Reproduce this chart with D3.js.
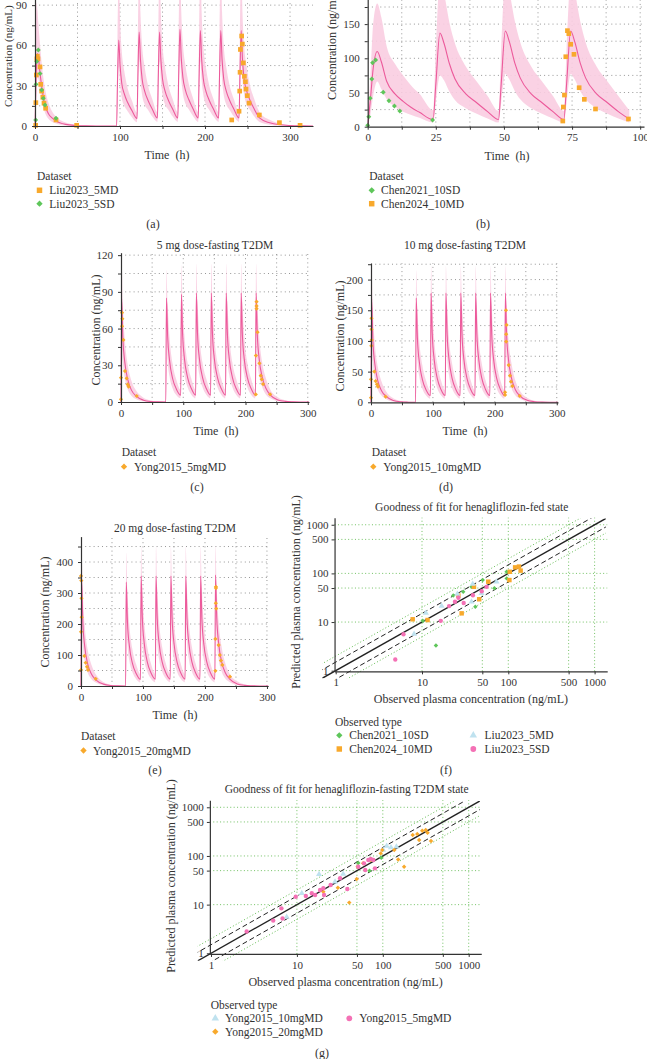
<!DOCTYPE html>
<html>
<head>
<meta charset="utf-8">
<script src="https://cdn.jsdelivr.net/npm/d3@7"></script>
<style>
  body { margin: 0; background: #fff; }
  svg { display: block; font-family: "Liberation Serif", "DejaVu Serif", serif; }
</style>
</head>
<body>
<script>
// ---- simulated PK curves: [time h, median, 5th pct, 95th pct]
const pkA = [
  [0,0,0,0],[0.5,12,5,40],[1,30,16,78],[2,48,30,92],[3,54,36,86],[4,51,35,76],[6,39,26,60],[8,29,19,46],
  [12,15,9.5,27],[16,9,5.2,17],[20,6,3.2,11],[24,4,2,7.5],[36,1.2,0.4,2.6],[48,0.4,0.1,1],[60,0.1,0,0.3],
  [72,0,0,0.05],[96,0,0,0],
  [97,32,18,66],[98.5,64,44,112],[100,46,31,80],[102,32,21,56],[105,24,15,41],[109,17.5,11,28],[114,11.5,6.5,19],
  [120,5.5,2.8,10],[121,36,20,70],[122.5,70,48,120],[124,50,34,85],[126,35,23,60],[129,26,16,44],[133,19,12,30],[138,12.5,7,20],
  [144,6,3,10.5],[145,36,20,70],[146.5,70,48,120],[148,50,34,85],[150,35,23,60],[153,26,16,44],[157,19,12,30],[162,12.5,7,20],
  [168,6,3,10.5],[169,37,21,72],[170.5,72,49,122],[172,51,35,86],[174,36,24,61],[177,26.5,16.5,45],[181,19.5,12.3,31],[186,12.7,7.2,20.5],
  [192,6,3,10.5],[193,36,20,71],[194.5,71,48,121],[196,50,34,85],[198,35,23,60],[201,26,16,44],[205,19,12,30],[210,12.5,7,20],
  [216,6,3,10.5],[217,36,20,71],[218.5,71,48,121],[220,50,34,85],[222,35,23,60],[225,26,16,44],[229,19,12,30],[234,12.5,7,20],
  [240,6,3,10.5],[241,36,20,71],[242.5,71,48,121],[244,50,34,85],[246,35,23,60],[249,26,16,44],[253,19,12,30],[258,12.5,7,20],
  [264,6,3,10.5],[276,2.4,1,4.6],[288,0.9,0.3,1.9],[300,0.35,0.1,0.8],[312,0.12,0,0.3],[327,0.03,0,0.1]
];
const pkB = [
  [0,0,0,0],[1,40,18,75],[2,85,45,150],[3.5,110,66,180],[5,95,55,160],[7,66,40,117],[10,48,29,92],[13,37,22,75],
  [16,28,17,60],[19,21,13,48],[24,10.5,6,24],
  [25,62,35,115],[26.5,137,75,215],[28,122,68,195],[30,92,51,152],[32,70,39,122],[36,48,27,88],[40,35,19,66],[44,22,12,45],[48,10.5,6,23],
  [49,63,35,116],[50.5,140,77,218],[52,124,69,197],[54,93,52,154],[56,71,40,123],[60,48,27,88],[64,35,19,66],[68,22,12,45],[72,10.5,6,23],
  [73,63,35,116],[74.5,140,77,218],[76,124,69,197],[78,93,52,154],[80,71,40,123],[84,48,27,88],[88,35,19,66],[92,22,12,45],[96,11,6,24]
];
const pkC = [
  [0,0,0,0],[1,84,58,118],[3,52,33,80],[6,33,20,52],[11,18,10,30],[17,9.5,5,17],[24,5,2.5,9.5],[36,1.5,0.6,3.5],
  [48,0.4,0.1,1.2],[60,0.1,0,0.4],[72,0,0,0],
  [73,85,60,108],[75,53,34,80],[78,34,21,53],[83,19,11,31],[89,10.5,5.5,18],[96,5.5,3,10],
  [97,88,62,112],[99,55,35,82],[102,35,22,54],[107,20,12,32],[113,11,6,19],[120,5.6,3,10],
  [121,89,63,113],[123,55,35,82],[126,35,22,54],[131,20,12,32],[137,11,6,19],[144,5.6,3,10],
  [145,89,63,113],[147,55,35,82],[150,35,22,54],[155,20,12,32],[161,11,6,19],[168,5.6,3,10],
  [169,89,63,113],[171,55,35,82],[174,35,22,54],[179,20,12,32],[185,11,6,19],[192,5.6,3,10],
  [193,89,63,113],[195,55,35,82],[198,35,22,54],[203,20,12,32],[209,11,6,19],[216,5.6,3,10],
  [217,89,63,113],[219,55,35,82],[222,35,22,54],[227,20,12,32],[233,11,6,19],[240,5.6,3,10],
  [252,1.7,0.7,3.8],[264,0.5,0.15,1.3],[276,0.15,0,0.4],[288,0.03,0,0.1],[302,0,0,0]
];
const pkD = [
  [0,0,0,0],[1,168,118,218],[3,102,66,152],[6,64,40,98],[11,35,21,58],[17,19,11,34],[24,10,5.5,18.5],[36,3,1.2,6.5],
  [48,0.8,0.2,2.2],[60,0.2,0,0.7],[72,0,0,0],
  [73,170,120,215],[75,104,68,150],[78,66,42,100],[83,37,22,60],[89,20,11,35],[96,11,5.8,19],
  [97,178,126,222],[99,110,72,158],[102,70,44,104],[107,39,23,63],[113,21,11.5,36],[120,11,6,19.5],
  [121,178,126,222],[123,110,72,158],[126,70,44,104],[131,39,23,63],[137,21,11.5,36],[144,11,6,19.5],
  [145,178,126,222],[147,110,72,158],[150,70,44,104],[155,39,23,63],[161,21,11.5,36],[168,11,6,19.5],
  [169,178,126,222],[171,110,72,158],[174,70,44,104],[179,39,23,63],[185,21,11.5,36],[192,11,6,19.5],
  [193,178,126,222],[195,110,72,158],[198,70,44,104],[203,39,23,63],[209,21,11.5,36],[216,11,6,19.5],
  [217,178,126,222],[219,110,72,158],[222,70,44,104],[227,39,23,63],[233,21,11.5,36],[240,11,6,19.5],
  [252,3.4,1.4,7.5],[264,1,0.3,2.6],[276,0.3,0,0.8],[288,0.05,0,0.2],[302,0,0,0]
];
const pkE = [
  [0,0,0,0],[1,340,240,440],[3,205,135,300],[6,128,80,195],[11,70,42,115],[17,38,22,68],[24,20,11,37],[36,6,2.4,13],
  [48,1.6,0.4,4.4],[60,0.4,0,1.4],[72,0,0,0],
  [73,335,235,430],[75,205,135,300],[78,130,82,198],[83,73,44,118],[89,40,22,70],[96,21,11.5,38],
  [97,355,250,450],[99,218,142,315],[102,138,86,208],[107,77,46,125],[113,42,23,72],[120,22,12,39],
  [121,355,250,450],[123,218,142,315],[126,138,86,208],[131,77,46,125],[137,42,23,72],[144,22,12,39],
  [145,355,250,450],[147,218,142,315],[150,138,86,208],[155,77,46,125],[161,42,23,72],[168,22,12,39],
  [169,355,250,450],[171,218,142,315],[174,138,86,208],[179,77,46,125],[185,42,23,72],[192,22,12,39],
  [193,355,250,450],[195,218,142,315],[198,138,86,208],[203,77,46,125],[209,42,23,72],[216,22,12,39],
  [217,358,252,452],[219,220,143,317],[222,139,87,209],[227,77,46,125],[233,42,23,72],[240,22,12,39],
  [252,6.8,2.8,15],[264,2,0.6,5.2],[276,0.6,0.1,1.6],[288,0.1,0,0.4],[302,0,0,0]
];

// ---- observed concentrations: [time h, conc ng/mL]
const obsLiu5MD = [[0.8,0.5],[1,17.4],[1.6,38],[2.2,50],[2.8,52],[3.5,50],[5.9,44],[6.7,31],[7.8,26],[9.2,21.4],[10.6,17],[12.5,13.2],
  [24.7,4.5],[49,0.5],[231.4,4.5],[240,11],[240.8,26],[241.2,40],[241.6,57],[243.1,67],[243.9,61],[245.1,47],[246.3,37],
  [247.5,33],[248.2,27.5],[249.8,22.6],[251.8,17],[263.9,8.2],[287.5,2.5],[311.8,0.5]];
const obsLiu5SD = [[0.8,4.5],[1.2,31],[2,48],[3.9,56.6],[6,39],[7.8,26.8],[9.8,20.6],[11.8,15.6],[24.7,5.8]];
const obsChen10SD = [[0,2],[0.4,14.6],[0.9,41.5],[1.5,69.7],[1.8,93.6],[2.9,97.5],[5.7,50.3],[7.8,38],[9.8,30.3],[11.8,23],[23.8,9.8]];
const obsChen10MD = [[71.6,8.3],[71.8,28.8],[72.2,46.3],[72.7,102.3],[73.3,140.4],[73.8,136],[74.5,120.5],[75.7,105.8],
  [77.6,57],[79.5,40],[83.6,25.9],[95.7,11.3]];
const obsYong5 = [[0,2.2],[0,19.9],[1.6,62],[2.1,68],[1.6,73],[3.8,50.7],[6.4,25.3],[9.1,19.4],[10.7,14.4],[12.3,12.5],[25.2,4.9],
  [216.5,6.2],[216.7,37.9],[217.8,82],[217.8,78.5],[217.8,76.3],[219.4,57],[222.4,31.6],[224.5,21.5],[226.1,18.5],[228.2,14.7],[239.5,6.3]];
const obsYong10 = [[0,7.5],[0,37.5],[0.5,92],[1,101.5],[0.8,119],[0.8,136.8],[5.4,50],[7.5,34.7],[9.7,29.3],[11.3,25.4],[23.7,9.1],
  [216.5,11.9],[216.5,16.3],[218,150],[219,126],[218.3,111],[218.3,99],[222.4,60.7],[224.5,43.3],[226.1,33.6],[228.3,26.5],[240.2,10.3]];
const obsYong20 = [[0,355],[0.5,340],[0.8,283],[1,222],[0,175],[0,52],[5.4,97],[7.5,75],[9.7,62],[11.3,52],[23.7,23],
  [217.7,320],[217.7,316],[217.5,267],[218.2,250],[216.8,152],[216.8,49],[222,132],[224,100],[225.8,82],[228,68],[240.3,30]];

// ---- goodness of fit: [observed, predicted] ng/mL
const fedChen10SD = [[10.2,10.6],[14.5,3.3],[23,35],[30,42],[37.5,53],[41.5,20.7],[50.5,73],[69,49.4],[95.8,108],[95.8,79]];
const fedChen10MD = [[7.8,11.4],[11.6,11],[26.4,35],[28.8,15.1],[40,53],[46,29.4],[58.6,67.5],[103,73],[104,108],[120,133],[133,138],[139,114]];
const fedLiu5MD = [[8.1,5.7],[11.1,15.3],[16.9,21.3],[25.7,37.7],[37.5,26.2],[38.7,60.5],[49,39],[73,67]];
const fedLiu5SD = [[4.9,1.7],[6.1,5.6],[16.5,10.6],[20.6,21.3],[24.1,26.2],[26.4,31.6],[30.4,24.6],[38.9,35.5],[49.2,43],[56,53]];
const fastYong10 = [[7.6,5.6],[11.4,17.1],[18.1,42],[27.8,29.6],[34.6,42.5],[101,133],[111,160],[124.5,150],[144,155]];
const fastYong20 = [[20.3,18.4],[30,22.3],[40.7,11],[49.7,33.6],[51,60],[59,70.6],[72.5,82.6],[94.6,113],[98.5,133],[136,133],
  [151,85],[177,60],[223,270],[252,282],[265,213],[288,330],[316,340],[332,300],[364,203]];
const fastYong5 = [[2.6,2.8],[5.3,4.7],[6.8,5.2],[6.6,8.4],[9.7,14.5],[12.7,15],[14.9,17.1],[16.3,15.8],[18.6,20],[20.3,21.7],
  [20.7,15.8],[24.7,25.3],[31.8,34.8],[38.6,20.9],[51.8,60],[60.4,70.6],[62.5,51.4],[67.8,82.6],[72.5,86.6],[77.5,82.6],[81,55.6]];
const fastOther = [[51.8,72],[70,49.8],[96,92]];

const gofTicks = [1, 10, 50, 100, 500, 1000];
const foldLines = [1, 1.5, 1 / 1.5, 2, 0.5];

// ---- drawing
const FONT = '"Liberation Serif", "DejaVu Serif", serif';
const PINK = '#ec5a9b', BAND = '#f9cde1', ORANGE = '#f8a92c', GREEN = '#5ec65a',
      LBLUE = '#bfe2ef', PINKPT = '#f471b5', TXT = '#333', GRID = '#8a8a8a', GGRID = '#63bb52';

const svg = d3.select('body').append('svg').attr('width', 647).attr('height', 1059).attr('font-family', FONT);

const symPath = (type, size) => d3.symbol()
  .type(type === 'circle' ? d3.symbolCircle : type === 'triangle' ? d3.symbolTriangle : d3.symbolSquare)
  .size(size)();

function drawPts(g, data, x, y, type, size, color) {
  g.append('g').selectAll('path').data(data).join('path')
    .attr('d', symPath(type, size))
    .attr('transform', d => `translate(${x(d[0])},${y(d[1])})` + (type === 'diamond' ? ' rotate(45)' : ''))
    .attr('fill', color);
}

function legend(title, tx, ty, items) {
  const g = svg.append('g').attr('font-size', 11.5).attr('fill', TXT);
  g.append('text').attr('x', tx).attr('y', ty).text(title);
  items.forEach(it => {
    g.append('path').attr('d', symPath(it.type, it.size))
      .attr('transform', `translate(${it.mx},${it.my})` + (it.type === 'diamond' ? ' rotate(45)' : ''))
      .attr('fill', it.color);
    g.append('text').attr('x', it.tx).attr('y', it.my + 4).text(it.label);
  });
}

function styleAxis(a) {
  a.attr('font-family', FONT);
  a.select('.domain').attr('stroke', TXT).attr('stroke-width', 1.2);
  a.selectAll('.tick line').attr('stroke', TXT);
  a.selectAll('.tick text').attr('fill', TXT).attr('font-size', 11);
}

function pkPanel(o) {
  const x = d3.scaleLinear().domain(o.xDom).range(o.xR);
  const y = d3.scaleLinear().domain(o.yDom).range(o.yR);
  const g = svg.append('g');

  g.selectAll('line.vg').data(o.xTicks.filter(d => d > 0)).join('line').attr('class', 'vg')
    .attr('x1', x).attr('x2', x).attr('y1', o.yR[0]).attr('y2', o.yR[1])
    .attr('stroke', GRID).attr('stroke-width', 0.9).attr('stroke-dasharray', '1 3.2');
  g.selectAll('line.hg').data(o.yTicks.filter(d => d > 0)).join('line').attr('class', 'hg')
    .attr('x1', o.xR[0]).attr('x2', o.xR[1]).attr('y1', y).attr('y2', y)
    .attr('stroke', GRID).attr('stroke-width', 0.9).attr('stroke-dasharray', '1 3.2');

  const area = d3.area().x(d => x(d[0])).y0(d => y(d[2])).y1(d => y(d[3])).curve(d3.curveMonotoneX);
  const line = d3.line().x(d => x(d[0])).y(d => y(d[1])).curve(d3.curveMonotoneX);
  g.append('path').datum(o.pk).attr('d', area).attr('fill', BAND).attr('opacity', 0.9);
  g.append('path').datum(o.pk).attr('d', line).attr('fill', 'none').attr('stroke', PINK).attr('stroke-width', 1.1);

  o.obs.forEach(s => drawPts(g, s.data, x, y, s.type, s.size, s.color));

  const xa = g.append('g').attr('transform', `translate(0,${o.yR[0]})`)
    .call(d3.axisBottom(x).tickValues(o.xTicks).tickSize(3).tickSizeOuter(0).tickPadding(4)
      .tickFormat(d => d % o.xLab === 0 ? d : ''));
  styleAxis(xa);
  const ya = g.append('g').attr('transform', `translate(${o.xR[0]},0)`)
    .call(d3.axisLeft(y).tickValues(o.yTicks).tickSize(3).tickSizeOuter(0).tickPadding(5)
      .tickFormat(d => d % o.yLab === 0 ? d : ''));
  styleAxis(ya);

  if (o.title) g.append('text').attr('x', o.titleX).attr('y', o.titleY).attr('text-anchor', 'middle')
    .attr('font-size', 11.5).attr('fill', TXT).text(o.title);
  g.append('text').attr('x', o.timeX).attr('y', o.yR[0] + 33).attr('text-anchor', 'middle')
    .attr('font-size', 12).attr('fill', TXT).text('Time\u2002(h)');
  g.append('text').attr('transform', `translate(${o.ylx},${o.yly}) rotate(-90)`).attr('text-anchor', o.yAnchor || 'middle')
    .attr('font-size', o.ylSize || 12).attr('fill', TXT).text('Concentration (ng/mL)');
}

function gofPanel(o) {
  const x = d3.scaleLog().domain([0.97, 1400]).range([o.x1 + o.dx * Math.log10(0.97), o.x1 + o.dx * Math.log10(1400)]);
  const y = d3.scaleLog().domain([0.97, 1400]).range([o.y1 - o.dy * Math.log10(0.97), o.y1 - o.dy * Math.log10(1400)]);
  const g = svg.append('g');
  const [xa0, xa1] = x.range(), [ya0, ya1] = y.range();

  g.selectAll('line.vg').data(gofTicks.filter(d => d > 1)).join('line').attr('class', 'vg')
    .attr('x1', x).attr('x2', x).attr('y1', ya0).attr('y2', ya1)
    .attr('stroke', GGRID).attr('stroke-width', 0.9).attr('stroke-dasharray', '1 2.4');
  g.selectAll('line.hg').data(gofTicks.filter(d => d > 1)).join('line').attr('class', 'hg')
    .attr('x1', xa0).attr('x2', xa1).attr('y1', y).attr('y2', y)
    .attr('stroke', GGRID).attr('stroke-width', 0.9).attr('stroke-dasharray', '1 2.4');

  const cid = 'clip' + o.id;
  g.append('clipPath').attr('id', cid).append('rect')
    .attr('x', x(0.7)).attr('y', y(1350)).attr('width', x(1350) - x(0.7)).attr('height', y(0.7) - y(1350));
  const lg = g.append('g').attr('clip-path', `url(#${cid})`);
  foldLines.forEach(f => {
    const solid = f === 1, dashed = Math.abs(Math.log10(f)) < 0.2;
    lg.append('line')
      .attr('x1', x(0.3)).attr('y1', y(0.3 * f)).attr('x2', x(3000)).attr('y2', y(3000 * f))
      .attr('stroke', solid || dashed ? '#222' : GGRID)
      .attr('stroke-width', solid ? 1.4 : 1)
      .attr('stroke-dasharray', solid ? null : dashed ? '5 3' : '1 2.2');
  });

  o.obs.forEach(s => drawPts(g, s.data, x, y, s.type, s.size, s.color));

  const xa = g.append('g').attr('transform', `translate(0,${ya0})`)
    .call(d3.axisBottom(x).tickValues(gofTicks).tickSize(3).tickSizeOuter(0).tickPadding(4).tickFormat(d => d));
  styleAxis(xa);
  const yax = g.append('g').attr('transform', `translate(${xa0},0)`)
    .call(d3.axisLeft(y).tickValues(gofTicks).tickSize(3).tickSizeOuter(0).tickPadding(3).tickFormat(d => d));
  styleAxis(yax);

  g.append('text').attr('x', o.titleX).attr('y', o.titleY).attr('text-anchor', 'middle')
    .attr('font-size', 11.5).attr('fill', TXT).text(o.title);
  g.append('text').attr('x', (xa0 + xa1) / 2).attr('y', ya0 + 32).attr('text-anchor', 'middle')
    .attr('font-size', 12).attr('fill', TXT).text('Observed plasma concentration (ng/mL)');
  g.append('text').attr('transform', `translate(${o.ylx},${o.yly}) rotate(-90)`).attr('text-anchor', 'middle')
    .attr('font-size', 12).attr('fill', TXT).text('Predicted plasma concentration (ng/mL)');
}

// (a) 5 mg fed
pkPanel({
  pk: pkA, xDom: [0, 327], xR: [35, 313], yDom: [0, 100], yR: [126, -8.3],
  xTicks: d3.range(0, 301, 50), xLab: 100, yTicks: d3.range(0, 91, 15), yLab: 30,
  timeX: 167, ylx: 12, yly: 107, yAnchor: 'start', ylSize: 11,
  obs: [
    { data: obsLiu5MD, type: 'square', size: 22, color: ORANGE },
    { data: obsLiu5SD, type: 'diamond', size: 12, color: GREEN }
  ]
});
// (b) 10 mg fed
pkPanel({
  pk: pkB, xDom: [0, 101.4], xR: [367.7, 644], yDom: [0, 200], yR: [126.7, -10.1],
  xTicks: d3.range(0, 101, 12.5), xLab: 25, yTicks: d3.range(0, 176, 25), yLab: 50,
  timeX: 507, ylx: 336, yly: 100, yAnchor: 'start',
  obs: [
    { data: obsChen10SD, type: 'diamond', size: 12, color: GREEN },
    { data: obsChen10MD, type: 'square', size: 22, color: ORANGE }
  ]
});
// (c) 5 mg fasting T2DM
pkPanel({
  pk: pkC, xDom: [0, 302], xR: [121, 309], yDom: [0, 122], yR: [402, 252.7],
  xTicks: d3.range(0, 301, 50), xLab: 100, yTicks: d3.range(0, 121, 15), yLab: 30,
  title: '5 mg dose-fasting T2DM', titleX: 215, titleY: 249, timeX: 216, ylx: 100, yly: 330,
  obs: [{ data: obsYong5, type: 'diamond', size: 9, color: ORANGE }]
});
// (d) 10 mg fasting T2DM
pkPanel({
  pk: pkD, xDom: [0, 302], xR: [371, 558], yDom: [0, 227], yR: [402.3, 263],
  xTicks: d3.range(0, 301, 50), xLab: 100, yTicks: d3.range(0, 226, 25), yLab: 50,
  title: '10 mg dose-fasting T2DM', titleX: 465, titleY: 249, timeX: 465, ylx: 344, yly: 336,
  obs: [{ data: obsYong10, type: 'diamond', size: 9, color: ORANGE }]
});
// (e) 20 mg fasting T2DM
pkPanel({
  pk: pkE, xDom: [0, 302], xR: [81, 268.2], yDom: [0, 482], yR: [686, 536.6],
  xTicks: d3.range(0, 301, 50), xLab: 100, yTicks: d3.range(0, 451, 50), yLab: 100,
  title: '20 mg dose-fasting T2DM', titleX: 175, titleY: 532, timeX: 175, ylx: 49, yly: 612,
  obs: [{ data: obsYong20, type: 'diamond', size: 9, color: ORANGE }]
});
// (f) GOF fed
gofPanel({
  id: 'f', x1: 335.7, dx: 86.3, y1: 670.7, dy: 48.65,
  title: 'Goodness of fit for henagliflozin-fed state', titleX: 471.7, titleY: 510.5, ylx: 300, yly: 592,
  obs: [
    { data: fedChen10SD, type: 'diamond', size: 10, color: GREEN },
    { data: fedChen10MD, type: 'square', size: 20, color: ORANGE },
    { data: fedLiu5MD, type: 'triangle', size: 16, color: LBLUE },
    { data: fedLiu5SD, type: 'circle', size: 15, color: PINKPT }
  ]
});
// (g) GOF fasting T2DM
gofPanel({
  id: 'g', x1: 211, dx: 85.9, y1: 953.3, dy: 48.67,
  title: 'Goodness of fit for henagliflozin-fasting T2DM state', titleX: 346.7, titleY: 793, ylx: 175, yly: 876,
  obs: [
    { data: fastOther, type: 'diamond', size: 10, color: GREEN },
    { data: fastYong10, type: 'triangle', size: 16, color: LBLUE },
    { data: fastYong20, type: 'diamond', size: 10, color: ORANGE },
    { data: fastYong5, type: 'circle', size: 15, color: PINKPT }
  ]
});

// legends
legend('Dataset', 37, 179.5, [
  { label: 'Liu2023_5MD', type: 'square', size: 30, color: ORANGE, mx: 39.5, my: 190.3, tx: 49.3 },
  { label: 'Liu2023_5SD', type: 'diamond', size: 20, color: GREEN, mx: 39.5, my: 203.7, tx: 49.3 }
]);
legend('Dataset', 369.3, 179.5, [
  { label: 'Chen2021_10SD', type: 'diamond', size: 20, color: GREEN, mx: 371.7, my: 190.3, tx: 381 },
  { label: 'Chen2024_10MD', type: 'square', size: 30, color: ORANGE, mx: 371.7, my: 203.7, tx: 381 }
]);
legend('Dataset', 121.7, 456, [
  { label: 'Yong2015_5mgMD', type: 'diamond', size: 20, color: ORANGE, mx: 124, my: 466.7, tx: 134 }
]);
legend('Dataset', 371.7, 456, [
  { label: 'Yong2015_10mgMD', type: 'diamond', size: 20, color: ORANGE, mx: 373.3, my: 466.7, tx: 383.3 }
]);
legend('Dataset', 81, 740, [
  { label: 'Yong2015_20mgMD', type: 'diamond', size: 20, color: ORANGE, mx: 83.5, my: 750.5, tx: 93 }
]);
legend('Observed type', 335, 725.5, [
  { label: 'Chen2021_10SD', type: 'diamond', size: 20, color: GREEN, mx: 339.3, my: 735.3, tx: 349.3 },
  { label: 'Chen2024_10MD', type: 'square', size: 30, color: ORANGE, mx: 339.3, my: 749, tx: 349.3 },
  { label: 'Liu2023_5MD', type: 'triangle', size: 24, color: LBLUE, mx: 473.3, my: 735.3, tx: 484.5 },
  { label: 'Liu2023_5SD', type: 'circle', size: 26, color: PINKPT, mx: 473.3, my: 749, tx: 484.5 }
]);
legend('Observed type', 210.7, 1009, [
  { label: 'Yong2015_10mgMD', type: 'triangle', size: 24, color: LBLUE, mx: 215.3, my: 1018.3, tx: 225 },
  { label: 'Yong2015_20mgMD', type: 'diamond', size: 20, color: ORANGE, mx: 215.3, my: 1031.7, tx: 225 },
  { label: 'Yong2015_5mgMD', type: 'circle', size: 26, color: PINKPT, mx: 349.3, my: 1018.3, tx: 359.3 }
]);

// panel letters
[['(a)', 153, 228], ['(b)', 483, 228], ['(c)', 197, 491], ['(d)', 446, 491], ['(e)', 155, 774], ['(f)', 446, 774], ['(g)', 322, 1057]]
  .forEach(([t, x, y]) => svg.append('text').attr('x', x).attr('y', y).attr('text-anchor', 'middle')
    .attr('font-size', 12).attr('fill', TXT).text(t));
</script>
</body>
</html>
